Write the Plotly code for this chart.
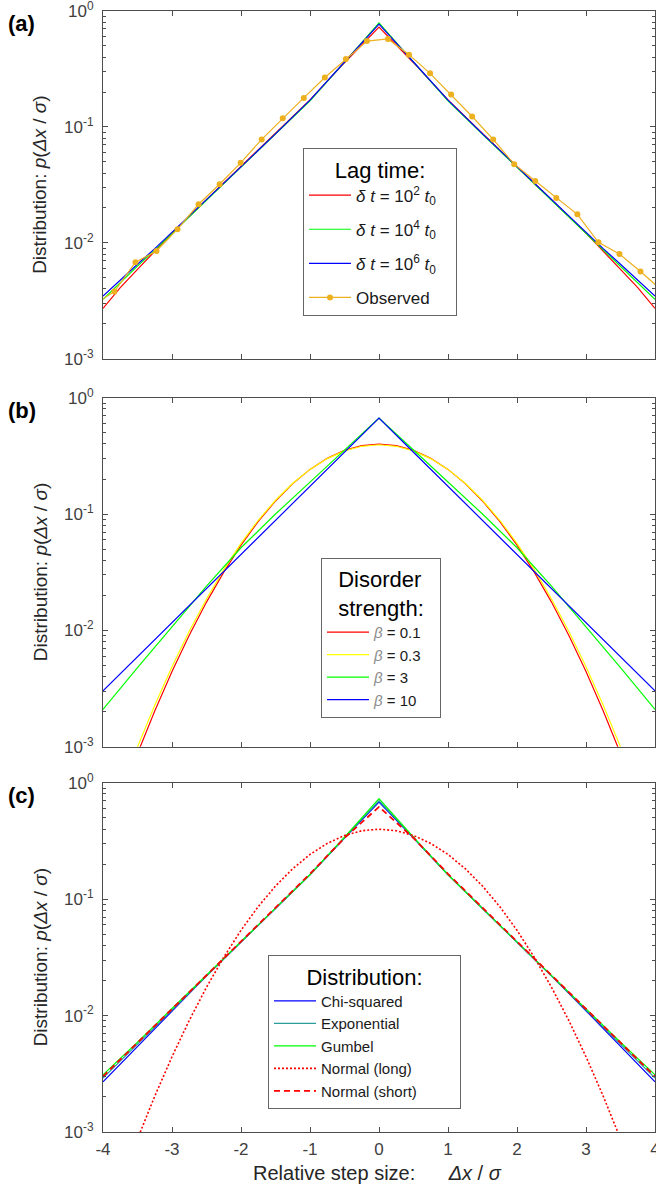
import plotly.graph_objects as go

# ---------------- data ----------------
# Panel (a): lag time
xa = [-4, -3.75, -3.5, -3.25, -3, -2.5, -2, -1.5, -1, -0.5, 0, 0.5, 1, 1.5, 2, 2.5, 3, 3.25, 3.5, 3.75, 4]
a_red = [0.00272, 0.0041, 0.0059, 0.0085, 0.0121, 0.0236, 0.0458, 0.088, 0.171, 0.358, 0.725,
         0.358, 0.171, 0.088, 0.0458, 0.0236, 0.0121, 0.0085, 0.0059, 0.0041, 0.00272]
a_green = [0.00325, 0.00455, 0.0063, 0.00865, 0.0120, 0.0231, 0.0447, 0.0862, 0.168, 0.362, 0.79,
           0.362, 0.168, 0.0862, 0.0447, 0.0231, 0.0120, 0.00865, 0.0063, 0.00455, 0.00325]
a_blue = [0.00347, 0.00479, 0.00653, 0.00891, 0.0123, 0.0234, 0.0452, 0.0871, 0.170, 0.363, 0.77,
          0.363, 0.170, 0.0871, 0.0452, 0.0234, 0.0123, 0.00891, 0.00653, 0.00479, 0.00347]
obs_x = [-4.14, -3.835, -3.53, -3.225, -2.92, -2.615, -2.31, -2.005, -1.7, -1.395, -1.09, -0.785,
         -0.48, -0.175, 0.13, 0.435, 0.74, 1.045, 1.35, 1.655, 1.96, 2.265, 2.57, 2.875, 3.18,
         3.485, 3.79, 4.095]
obs_y = [0.0029, 0.0038, 0.0068, 0.0085, 0.0131, 0.0215, 0.032, 0.049, 0.078, 0.119, 0.178, 0.267,
         0.386, 0.55, 0.574, 0.42, 0.29, 0.19, 0.123, 0.078, 0.0477, 0.0342, 0.0243, 0.0176, 0.0101,
         0.0080, 0.00566, 0.0039]

# Panel (b): disorder strength
xg = [-4, -3.75, -3.5, -3.25, -3, -2.75, -2.5, -2.25, -2, -1.75, -1.5, -1.25, -1, -0.75, -0.5, -0.25,
      0, 0.25, 0.5, 0.75, 1, 1.25, 1.5, 1.75, 2, 2.25, 2.5, 2.75, 3, 3.25, 3.5, 3.75, 4]
b_red = [0.000134, 0.000353, 0.000873, 0.00203, 0.00443, 0.00909, 0.0175, 0.0317, 0.0540, 0.0863,
         0.1295, 0.1826, 0.2420, 0.3011, 0.3521, 0.3867, 0.3989, 0.3867, 0.3521, 0.3011, 0.2420,
         0.1826, 0.1295, 0.0863, 0.0540, 0.0317, 0.0175, 0.00909, 0.00443, 0.00203, 0.000873,
         0.000353, 0.000134]
b_yellow = [0.00016, 0.000412, 0.000996, 0.00227, 0.00487, 0.00982, 0.01861, 0.03324, 0.0559, 0.0884,
            0.1314, 0.1838, 0.2419, 0.2995, 0.3489, 0.3823, 0.3942, 0.3823, 0.3489, 0.2995, 0.2419,
            0.1838, 0.1314, 0.0884, 0.0559, 0.03324, 0.01861, 0.00982, 0.00487, 0.00227, 0.000996,
            0.000412, 0.00016]
xl = [-4, -3.5, -3, -2.5, -2, -1.5, -1, -0.5, 0, 0.5, 1, 1.5, 2, 2.5, 3, 3.5, 4]
b_green = [0.00209, 0.00479, 0.0107, 0.0240, 0.0513, 0.100, 0.188, 0.355, 0.668,
           0.355, 0.188, 0.100, 0.0513, 0.0240, 0.0107, 0.00479, 0.00209]
b_blue = [0.00302, 0.00594, 0.0117, 0.0229, 0.0450, 0.0883, 0.173, 0.340, 0.668,
          0.340, 0.173, 0.0883, 0.0450, 0.0229, 0.0117, 0.00594, 0.00302]

# Panel (c): distribution
c_chi = [0.0027, 0.0054, 0.0110, 0.0219, 0.0427, 0.083, 0.162, 0.335, 0.68,
         0.335, 0.162, 0.083, 0.0427, 0.0219, 0.0110, 0.0054, 0.0027]
c_exp = [0.0029, 0.0057, 0.0113, 0.0221, 0.0428, 0.0835, 0.163, 0.338, 0.70,
         0.338, 0.163, 0.0835, 0.0428, 0.0221, 0.0113, 0.0057, 0.0029]
c_gum = [0.0031, 0.0059, 0.0115, 0.0222, 0.0428, 0.083, 0.162, 0.340, 0.73,
         0.340, 0.162, 0.083, 0.0428, 0.0222, 0.0115, 0.0059, 0.0031]
c_nlong = b_red
c_nshort = [0.0030, 0.0058, 0.0114, 0.0222, 0.0432, 0.0845, 0.165, 0.335, 0.62,
            0.335, 0.165, 0.0845, 0.0432, 0.0222, 0.0114, 0.0058, 0.0030]

x_ticks = [-4, -3, -2, -1, 0, 1, 2, 3, 4]
x_ticktext = ["-4", "-3", "-2", "-1", "0", "1", "2", "3", "4"]
y_ticks = [0.001, 0.01, 0.1, 1]
y_ticktext = ["10<sup>-3</sup>", "10<sup>-2</sup>", "10<sup>-1</sup>", "10<sup>0</sup>"]
y_minor = [m * 10 ** e for e in (-3, -2, -1) for m in range(2, 10)]

# ---------------- figure ----------------
FONT = "Liberation Sans, Arial, Helvetica, sans-serif"
AX = "#4d4d4d"
TXT = "#404040"
NB = "\u00a0"

fig = go.Figure()
_g = [0]

def line(x, y, color, name, xa_, ya_, leg, dash="solid", width=1.2, mode="lines", marker=None):
    _g[0] += 1
    fig.add_trace(go.Scatter(x=x, y=y, mode=mode, name=name, xaxis=xa_, yaxis=ya_,
                             line=dict(color=color, width=width, dash=dash),
                             marker=marker, legend=leg, legendgroup="g%d" % _g[0]))

# (a)
line(xa, a_red, "#ff0000", "<i>δ t</i> = 10<sup>2</sup> <i>t</i><sub>0</sub>" + NB * 3, "x", "y", "legend")
line(xa, a_green, "#00ff00", "<i>δ t</i> = 10<sup>4</sup> <i>t</i><sub>0</sub>", "x", "y", "legend")
line(xa, a_blue, "#0000ff", "<i>δ t</i> = 10<sup>6</sup> <i>t</i><sub>0</sub>", "x", "y", "legend")
line(obs_x, obs_y, "#EDB120", "Observed", "x", "y", "legend", mode="lines+markers",
     marker=dict(size=6, color="#EDB120"))

# (b)
beta = "<i><span style='color:#8c8c8c'>β</span></i>"
line(xg, b_red, "#ff0000", beta + " = 0.1", "x2", "y2", "legend2")
line(xg, b_yellow, "#ffff00", beta + " = 0.3" + NB * 3, "x2", "y2", "legend2")
line(xl, b_green, "#00ff00", beta + " = 3", "x2", "y2", "legend2")
line(xl, b_blue, "#0000ff", beta + " = 10", "x2", "y2", "legend2")

# (c)
line(xl, c_chi, "#0000ff", "Chi-squared", "x3", "y3", "legend3")
line(xl, c_exp, "#2a9d9d", "Exponential", "x3", "y3", "legend3")
line(xl, c_gum, "#00ff00", "Gumbel", "x3", "y3", "legend3")
line(xg, c_nlong, "#ff0000", "Normal (long)", "x3", "y3", "legend3", dash="2px,2px", width=1.6)
line(xl, c_nshort, "#ff0000", "Normal (short)" + NB * 9, "x3", "y3", "legend3", dash="6px,4px", width=1.8)

L, R, T, B = 103, 1, 11, 61
H = 1193
area = H - T - B
def py(px):
    return (H - B - px) / area
def pxx(px):
    return (px - L) / (656 - L - R)

domains = [(py(358.7), py(11)), (py(746.7), py(397.7)), (py(1132), py(782.7))]

layout = dict(
    width=656, height=H,
    margin=dict(l=L, r=R, t=T, b=B, autoexpand=False),
    paper_bgcolor="white", plot_bgcolor="white",
    font=dict(family=FONT, size=17, color=TXT),
    showlegend=True,
)
for i in range(3):
    sfx = "" if i == 0 else str(i + 1)
    layout["xaxis" + sfx] = dict(
        domain=[0, 1], anchor="y" + sfx, range=[-4, 4.00001], automargin=False,
        tickmode="array", tickvals=x_ticks, ticktext=x_ticktext, ticklabeloverflow="allow",
        ticklabelstandoff=2,
        showticklabels=(i == 2), ticks="inside", ticklen=5, tickwidth=1, tickcolor=AX,
        showline=True, linecolor=AX, linewidth=1, mirror="allticks",
        showgrid=False, zeroline=False, tickfont=dict(size=17, color=TXT),
    )
    layout["yaxis" + sfx] = dict(
        domain=list(domains[i]), anchor="x" + sfx, type="log", range=[-3.00001, 0.00001],
        automargin=False, ticklabelstandoff=5,
        tickmode="array", tickvals=y_ticks, ticktext=y_ticktext, ticklabeloverflow="allow",
        ticks="inside", ticklen=5, tickwidth=1, tickcolor=AX,
        minor=dict(tickmode="array", tickvals=y_minor, ticks="inside", ticklen=3,
                   tickwidth=1, tickcolor=AX, showgrid=False),
        showline=True, linecolor=AX, linewidth=1, mirror="allticks",
        showgrid=False, zeroline=False, tickfont=dict(size=17, color=TXT),
    )

def legend(x, y, title, fs, gap):
    return dict(x=x, y=y, xanchor="left", yanchor="top", xref="paper", yref="paper",
                bordercolor="#666666", borderwidth=1, bgcolor="white", itemwidth=42,
                tracegroupgap=gap, traceorder="grouped",
                font=dict(family=FONT, size=fs, color="#1a1a1a"),
                title=dict(text=title, side="top center", font=dict(family=FONT, size=22, color="#000")))

layout["legend"] = legend(pxx(303), py(148), "Lag time:", 17, 9)
layout["legend2"] = legend(pxx(321), py(557.7), "Disorder<br>strength:", 15, 0)
layout["legend3"] = legend(pxx(268), py(955), "Distribution:", 15, 0)

ylab = "Distribution: <i>p</i>(<i>Δx</i> / <i>σ</i>)"
ann = []
for i, (lab, top) in enumerate([("(a)", 11), ("(b)", 397.7), ("(c)", 782.7)]):
    ann.append(dict(text="<b>%s</b>" % lab, x=pxx(22), y=py(top + 13), xref="paper", yref="paper",
                    showarrow=False, xanchor="center", yanchor="middle",
                    font=dict(family=FONT, size=22, color="#000")))
    ann.append(dict(text=ylab, x=pxx(40), y=(domains[i][0] + domains[i][1]) / 2,
                    xref="paper", yref="paper", showarrow=False, textangle=-90,
                    xanchor="center", yanchor="middle", font=dict(family=FONT, size=19, color="#262626")))
ann.append(dict(text="Relative step size:" + NB * 6 + "<i>Δx</i> / <i>σ</i>",
                x=pxx(377), y=py(1173), xref="paper", yref="paper", showarrow=False,
                xanchor="center", yanchor="middle", font=dict(family=FONT, size=20, color="#262626")))
layout["annotations"] = ann

fig.update_layout(**layout)
fig.write_html("out.html")
